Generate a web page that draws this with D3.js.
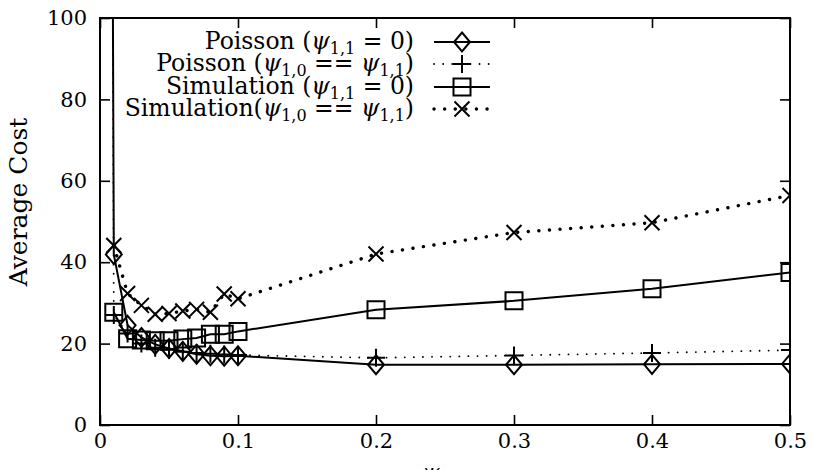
<!DOCTYPE html>
<html>
<head>
<meta charset="utf-8">
<script src="https://cdn.jsdelivr.net/npm/d3@7"></script>
<style>
  html, body { margin: 0; padding: 0; background: #fff; }
  svg { display: block; }
  text { font-family: "DejaVu Serif", "Liberation Serif", serif; fill: #000; }
</style>
</head>
<body>
<svg id="chart" width="814" height="470"></svg>
<script>
// Window width psi on the x axis (simulation runs)
const psi = [0.01, 0.02, 0.03, 0.04, 0.05, 0.06, 0.07, 0.08, 0.09, 0.1, 0.2, 0.3, 0.4, 0.5];
// The Poisson model is also evaluated at 0.005, where the cost blows up off the top of the axis
const psiPoisson = [0.005, 0.01, 0.02, 0.03, 0.04, 0.05, 0.06, 0.07, 0.08, 0.09, 0.1, 0.2, 0.3, 0.4, 0.5];

// Average cost per series
const poissonZero  = [500, 41.9, 24.5, 21.5, 19.8, 18.8, 18.1, 17.4, 17.0, 16.9, 17.0, 14.8, 14.8, 14.9, 15.0];
const poissonEqual = [500, 27.0, 22.5, 20.0, 19.0, 18.5, 18.0, 17.7, 17.5, 17.3, 17.2, 16.5, 17.1, 17.7, 18.4];
const simZero      = [27.7, 21.2, 20.9, 20.7, 20.7, 21.1, 21.4, 22.3, 22.3, 23.0, 28.3, 30.5, 33.5, 37.5];
const simEqual     = [44.1, 32.3, 29.4, 27.2, 27.4, 28.0, 28.4, 27.7, 32.2, 31.0, 42.0, 47.3, 49.7, 56.4];

const xTicks = [0, 0.1, 0.2, 0.3, 0.4, 0.5];
const xTickLabels = ["0", "0.1", "0.2", "0.3", "0.4", "0.5"];
const yTicks = [0, 20, 40, 60, 80, 100];
const yTickLabels = ["0", "20", "40", "60", "80", "100"];

const seriesNames = [
  { head: "Poisson (",    sub1: "1,1", tail: " = 0)" },
  { head: "Poisson (",    sub1: "1,0", mid: " == ", sub2: "1,1", tail: ")" },
  { head: "Simulation (", sub1: "1,1", tail: " = 0)" },
  { head: "Simulation(",  sub1: "1,0", mid: " == ", sub2: "1,1", tail: ")" }
];

const svg = d3.select("#chart");
const m = { left: 100, right: 790, top: 18, bottom: 425 };

const x = d3.scaleLinear().domain([0, 0.5]).range([m.left, m.right]);
const y = d3.scaleLinear().domain([0, 100]).range([m.bottom, m.top]);

svg.append("clipPath").attr("id", "plot-clip")
  .append("rect")
  .attr("x", m.left).attr("y", m.top)
  .attr("width", m.right - m.left).attr("height", m.bottom - m.top);

// Axes: ticks point inward on all four sides
const tickLen = 10;
const axisFont = "21px";

const gx = svg.append("g").attr("transform", `translate(0,${m.bottom})`)
  .call(d3.axisBottom(x).tickValues(xTicks).tickSize(-tickLen).tickPadding(8)
        .tickFormat((d, i) => xTickLabels[i]));
const gxTop = svg.append("g").attr("transform", `translate(0,${m.top})`)
  .call(d3.axisTop(x).tickValues(xTicks).tickSize(-tickLen).tickFormat(""));
const gy = svg.append("g").attr("transform", `translate(${m.left},0)`)
  .call(d3.axisLeft(y).tickValues(yTicks).tickSize(-tickLen).tickPadding(13)
        .tickFormat((d, i) => yTickLabels[i]));
const gyRight = svg.append("g").attr("transform", `translate(${m.right},0)`)
  .call(d3.axisRight(y).tickValues(yTicks).tickSize(-tickLen).tickFormat(""));

[gx, gxTop, gy, gyRight].forEach(g => {
  g.select(".domain").remove();
  g.selectAll(".tick line").attr("stroke", "#000").attr("stroke-width", 1.6);
  g.selectAll(".tick text").style("font-size", axisFont).attr("fill", "#000");
});

// Frame
svg.append("rect")
  .attr("x", m.left).attr("y", m.top)
  .attr("width", m.right - m.left).attr("height", m.bottom - m.top)
  .attr("fill", "none").attr("stroke", "#000").attr("stroke-width", 2);

// Axis titles
svg.append("text")
  .attr("transform", `translate(27,202) rotate(-90)`)
  .attr("text-anchor", "middle")
  .style("font-size", "25px")
  .text("Average Cost");

svg.append("text")
  .attr("x", 431).attr("y", 480)
  .attr("text-anchor", "middle")
  .style("font-size", "22px").style("font-style", "italic")
  .text("ψ");

// Series styles
const styles = [
  { xs: psiPoisson, values: poissonZero,  symbol: "diamond", dash: null,       width: 2,   cap: "butt" },
  { xs: psiPoisson, values: poissonEqual, symbol: "plus",    dash: "0.1 9",    width: 1.8, cap: "round" },
  { xs: psi,        values: simZero,      symbol: "square",  dash: null,       width: 2,   cap: "butt" },
  { xs: psi,        values: simEqual,     symbol: "cross",   dash: "0.1 10.5", width: 3.4, cap: "round" }
];

function markerPath(kind, cx, cy) {
  const p = d3.path();
  if (kind === "diamond") {
    p.moveTo(cx, cy - 9.5); p.lineTo(cx + 8, cy); p.lineTo(cx, cy + 9.5); p.lineTo(cx - 8, cy); p.closePath();
  } else if (kind === "plus") {
    p.moveTo(cx - 9, cy); p.lineTo(cx + 9, cy); p.moveTo(cx, cy - 9); p.lineTo(cx, cy + 9);
  } else if (kind === "square") {
    p.rect(cx - 8.5, cy - 8.5, 17, 17);
  } else if (kind === "cross") {
    p.moveTo(cx - 7.5, cy - 7.5); p.lineTo(cx + 7.5, cy + 7.5);
    p.moveTo(cx + 7.5, cy - 7.5); p.lineTo(cx - 7.5, cy + 7.5);
  }
  return p.toString();
}

const line = d3.line().x(d => x(d[0])).y(d => y(d[1]));
const plot = svg.append("g").attr("clip-path", "url(#plot-clip)");

styles.forEach(s => {
  const pts = s.xs.map((v, i) => [v, s.values[i]]);
  plot.append("path")
    .attr("d", line(pts))
    .attr("fill", "none").attr("stroke", "#000")
    .attr("stroke-width", s.width)
    .attr("stroke-linecap", s.cap)
    .attr("stroke-dasharray", s.dash);
  plot.append("g").selectAll("path")
    .data(pts.filter(d => d[1] <= 100))
    .join("path")
    .attr("d", d => markerPath(s.symbol, x(d[0]), y(d[1])))
    .attr("fill", "none").attr("stroke", "#000").attr("stroke-width", 2);
});

// Legend
const legendTextX = 414, sampleX0 = 434, sampleX1 = 490, sampleMid = 462;
const rowY = [42, 64, 87, 109];
const legend = svg.append("g");

seriesNames.forEach((n, i) => {
  const s = styles[i];
  const cy = rowY[i];
  const t = legend.append("text")
    .attr("x", legendTextX).attr("y", cy + 7)
    .attr("text-anchor", "end")
    .style("font-size", "23.5px");
  t.append("tspan").text(n.head);
  t.append("tspan").style("font-style", "italic").text("ψ");
  t.append("tspan").attr("dy", 5).style("font-size", "16px").text(n.sub1);
  if (n.mid) {
    t.append("tspan").attr("dy", -5).text(n.mid);
    t.append("tspan").style("font-style", "italic").text("ψ");
    t.append("tspan").attr("dy", 5).style("font-size", "16px").text(n.sub2);
  }
  t.append("tspan").attr("dy", -5).text(n.tail);

  legend.append("line")
    .attr("x1", sampleX0).attr("x2", sampleX1).attr("y1", cy).attr("y2", cy)
    .attr("stroke", "#000").attr("stroke-width", s.width)
    .attr("stroke-linecap", s.cap).attr("stroke-dasharray", s.dash);
  legend.append("path")
    .attr("d", markerPath(s.symbol, sampleMid, cy))
    .attr("fill", "none").attr("stroke", "#000").attr("stroke-width", 2);
});
</script>
</body>
</html>
